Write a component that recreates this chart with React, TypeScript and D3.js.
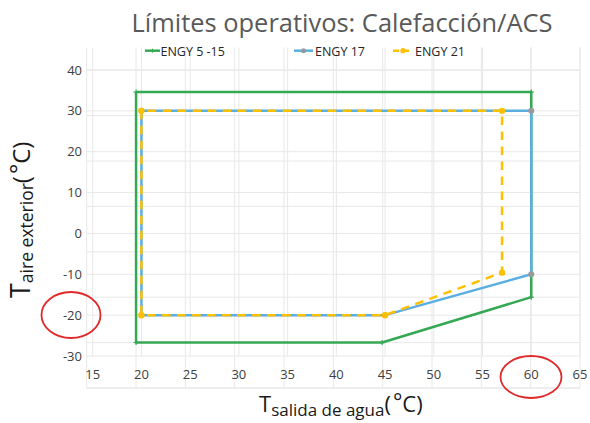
import React from 'react';
import * as d3 from 'd3';

const xTicks = [15, 20, 25, 30, 35, 40, 45, 50, 55, 60, 65];
const yTicks = [-30, -20, -10, 0, 10, 20, 30, 40];
const bgXTicks = [15, 20, 25, 30, 35, 40, 45, 50, 55, 60, 65];
const bgYTicks = [-35, -25, -15, -5, 5, 15, 25, 35];
const seriesNames = ['ENGY 5 -15', 'ENGY 17', 'ENGY 21'];
const engy515: [number, number][] = [[19.45, 34.6], [19.45, -26.7], [44.7, -26.7], [60, -15.6], [60, 34.6], [19.45, 34.6]];
const engy17: [number, number][] = [[20, 30], [20, -20], [45, -20], [60, -10], [60, 30], [20, 30]];
const engy21: [number, number][] = [[20, 30], [20, -20], [45, -20], [57, -9.6], [57, 30], [20, 30]];
const titleText = 'Límites operativos: Calefacción/ACS';

const GREEN = '#34a853';
const BLUE = '#5aaee0';
const YELLOW = '#ffc000';
const GRAY = '#9a9a9a';
const GRID = '#e8e8e8';
const FONT = '"Open Sans", "DejaVu Sans", sans-serif';

export default function App() {
  const x = d3.scaleLinear().domain([15, 65]).range([92.7, 580]);
  const y = d3.scaleLinear().domain([-30, 40]).range([356, 70]);
  const xB = d3.scaleLinear().domain([15, 65]).range([86.7, 580]);
  const yB = d3.scaleLinear().domain([-35, 40]).range([388, 47.5]);
  const line = d3.line<[number, number]>().x(d => x(d[0])).y(d => y(d[1]));

  return (
    <svg width={590} height={423} style={{ position: 'absolute', left: 0, top: 0, background: '#fff' }}>
      {/* background grid (second layer) */}
      <g stroke={GRID} strokeWidth={1} fill="none">
        {bgXTicks.map(t => (
          <line key={'bx' + t} x1={xB(t)} x2={xB(t)} y1={47.5} y2={388} />
        ))}
        {bgYTicks.map(t => (
          <line key={'by' + t} x1={86.7} x2={580} y1={yB(t)} y2={yB(t)} />
        ))}
        <line x1={86.7} x2={580} y1={388} y2={388} />
      </g>
      {/* main grid */}
      <g stroke={GRID} strokeWidth={1} fill="none">
        {xTicks.map(t => (
          <line key={'gx' + t} x1={x(t)} x2={x(t)} y1={47.5} y2={356} />
        ))}
        {yTicks.map(t => (
          <line key={'gy' + t} x1={86.7} x2={580} y1={y(t)} y2={y(t)} />
        ))}
      </g>
      {/* tick labels */}
      <g fontFamily={FONT} fontSize={13} fill="#404040">
        {yTicks.map(t => (
          <text key={'yl' + t} x={82} y={y(t)} dy="0.35em" textAnchor="end">{t}</text>
        ))}
        {xTicks.map(t => (
          <text key={'xl' + t} x={x(t)} y={379} textAnchor="middle">{t}</text>
        ))}
      </g>
      {/* series */}
      <path d={line(engy515) || ''} fill="none" stroke={GREEN} strokeWidth={2.5} strokeLinejoin="round" />
      {engy515.slice(0, 5).map((d, i) => (
        <g key={'gm' + i} stroke={GREEN} strokeWidth={1.2}>
          <line x1={x(d[0]) - 2.5} x2={x(d[0]) + 2.5} y1={y(d[1])} y2={y(d[1])} />
          <line x1={x(d[0])} x2={x(d[0])} y1={y(d[1]) - 2.5} y2={y(d[1]) + 2.5} />
        </g>
      ))}
      <path d={line(engy17) || ''} fill="none" stroke={BLUE} strokeWidth={2.5} strokeLinejoin="round" />
      {engy17.slice(0, 5).map((d, i) => (
        <circle key={'bm' + i} cx={x(d[0])} cy={y(d[1])} r={3} fill={GRAY} />
      ))}
      <path d={line(engy21) || ''} fill="none" stroke={YELLOW} strokeWidth={2.5} strokeDasharray="8.5,6.5" />
      {engy21.slice(0, 5).map((d, i) => (
        <circle key={'ym' + i} cx={x(d[0])} cy={y(d[1])} r={3.2} fill={YELLOW} />
      ))}
      {/* title */}
      <text x={342} y={31.5} textAnchor="middle" fontFamily={FONT} fontSize={25} fill="#595959"
        textLength={421} lengthAdjust="spacingAndGlyphs">{titleText}</text>
      {/* legend */}
      <g fontFamily={FONT} fontSize={12.5} fill="#262626">
        <line x1={145} x2={160} y1={50.7} y2={50.7} stroke={GREEN} strokeWidth={2.5} />
        <line x1={152.5} x2={152.5} y1={48.7} y2={52.7} stroke={GREEN} strokeWidth={1} />
        <text x={160.5} y={56.3}>{seriesNames[0]}</text>
        <line x1={294} x2={313} y1={50.7} y2={50.7} stroke={BLUE} strokeWidth={2.5} />
        <circle cx={303.5} cy={50.7} r={2.5} fill={GRAY} />
        <text x={315} y={56.3}>{seriesNames[1]}</text>
        <line x1={393} x2={413} y1={50.7} y2={50.7} stroke={YELLOW} strokeWidth={2.5} strokeDasharray="6,4" />
        <circle cx={403} cy={50.7} r={2.6} fill={YELLOW} />
        <text x={415} y={56.3}>{seriesNames[2]}</text>
      </g>
      {/* axis titles */}
      <text x={259} y={412} fontFamily={FONT} fill="#1a1a1a">
        <tspan fontSize={22}>T</tspan>
        <tspan fontSize={17} dy={4}>salida de agua</tspan>
        <tspan fontSize={22} dy={-4}>(</tspan>
        <tspan fontSize={22} dx={2} dy={-3}>°</tspan>
        <tspan fontSize={22} dy={3}>C)</tspan>
      </text>
      <text transform="translate(30,298) rotate(-90)" fontFamily={FONT} fill="#1a1a1a">
        <tspan fontSize={27}>T</tspan>
        <tspan fontSize={17.5} dy={3}>aire exterior</tspan>
        <tspan fontSize={24} dy={-3}>(</tspan>
        <tspan fontSize={24} dx={2} dy={-3}>°</tspan>
        <tspan fontSize={24} dy={3}>C)</tspan>
      </text>
      {/* annotation ellipses */}
      <ellipse cx={71} cy={315} rx={29.5} ry={23} fill="none" stroke="#e02a2a" strokeWidth={1.8} />
      <ellipse cx={531} cy={377} rx={30.5} ry={21} fill="none" stroke="#e02a2a" strokeWidth={1.8} />
    </svg>
  );
}
